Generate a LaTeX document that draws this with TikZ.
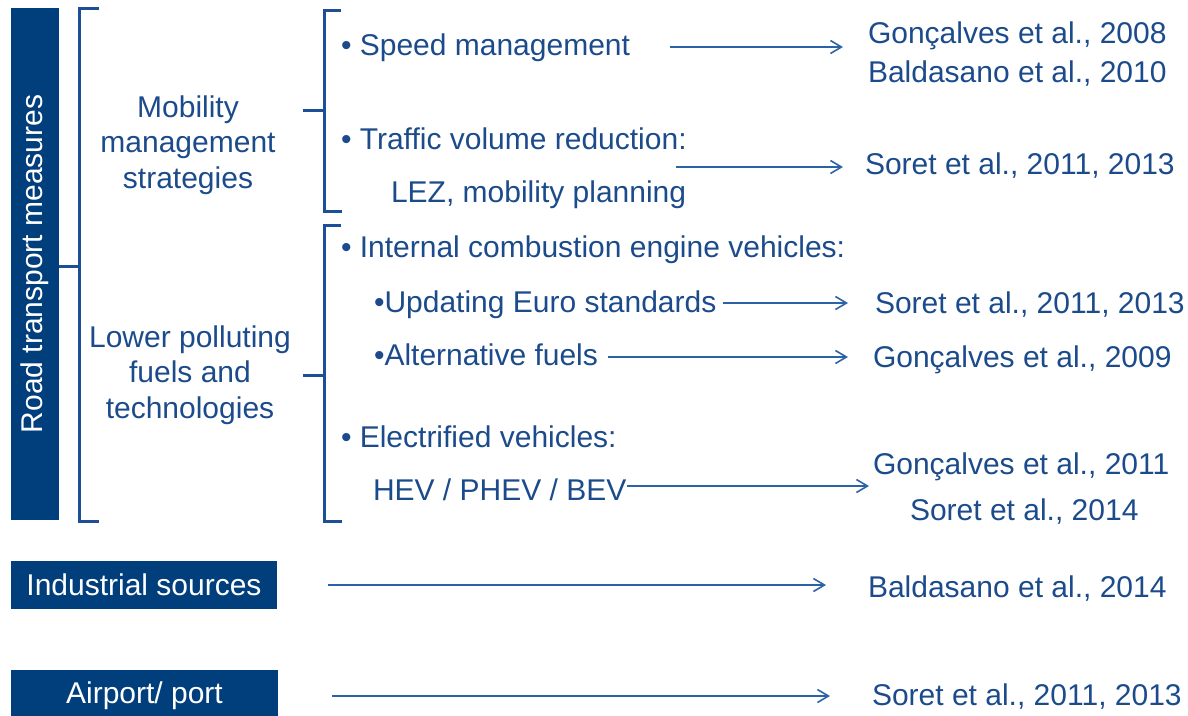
\documentclass[tikz,border=0pt]{standalone}
\usepackage{fontspec}
\setmainfont{Liberation Sans}
\usetikzlibrary{arrows.meta}

\definecolor{boxblue}{HTML}{003E7C}
\definecolor{txtblue}{HTML}{1C4B8B}
\definecolor{brkblue}{HTML}{1D4F96}
\definecolor{arrblue}{HTML}{2C63A6}

\begin{document}
\begin{tikzpicture}[x=1pt,y=-1pt,
  every node/.style={inner sep=0pt, outer sep=0pt,
    font=\fontsize{30}{35.5}\selectfont},
  item/.style={text=txtblue, anchor=base west},
  ref/.style={text=txtblue, anchor=base west},
  group/.style={text=txtblue, align=center, anchor=center},
  catbox/.style={fill=boxblue, text=white, anchor=center},
  bracket/.style={draw=brkblue, line width=3pt, line join=miter},
  link/.style={draw=arrblue, line width=1.6pt,
    -{Straight Barb[length=11pt,width=13pt,line width=1.6pt]}},
]
\useasboundingbox (0,0) rectangle (1188,715);

% --- category boxes ---
\node[catbox, rotate=90, minimum width=512pt, minimum height=48pt]
  (road) at (35,264) {Road transport measures};
\node[catbox, minimum width=266pt, minimum height=48pt]
  (ind) at (144,585) {Industrial sources};
\node[catbox, minimum width=267pt, minimum height=52pt]
  (air) at (144.5,696) {Airport/ port};

% --- sub-categories ---
\node[group] (mob) at (188,145) {Mobility\\management\\strategies};
\node[group] (low) at (190,375) {Lower polluting\\fuels and\\technologies};

% --- brackets ---
\coordinate (br0) at (79,266);
\draw[bracket] (99,8) -- (79,8) -- (79,521) -- (99,521);
\draw[bracket] (road.south |- br0) -- (br0);

\coordinate (br1) at (324,110);
\draw[bracket] (341,10) -- (324,10) -- (324,211) -- (342,211);
\draw[bracket] (303,110) -- (br1);

\coordinate (br2) at (324,375);
\draw[bracket] (341,225) -- (324,225) -- (324,521) -- (342,521);
\draw[bracket] (303,375) -- (br2);

% --- measures ---
\node[item] (sp)   at (341,55)  {• Speed management};
\node[item] (tv)   at (341,149) {• Traffic volume reduction:};
\node[item] (lez)  at (391,202) {LEZ, mobility planning};
\node[item] (ice)  at (341,257) {• Internal combustion engine vehicles:};
\node[item] (euro) at (374,312) {•Updating Euro standards};
\node[item] (alt)  at (374,365) {•Alternative fuels};
\node[item] (ev)   at (341,447) {• Electrified vehicles:};
\node[item] (hev)  at (373,500) {HEV / PHEV / BEV};

% --- references ---
\node[ref] (r1) at (868,43)  {Gonçalves et al., 2008};
\node[ref] (r2) at (868,82)  {Baldasano et al., 2010};
\node[ref] (r3) at (865,174) {Soret et al., 2011, 2013};
\node[ref] (r4) at (875,313) {Soret et al., 2011, 2013};
\node[ref] (r5) at (873,367) {Gonçalves et al., 2009};
\node[ref] (r6) at (873,474) {Gonçalves et al., 2011};
\node[ref] (r7) at (910,520) {Soret et al., 2014};
\node[ref] (r8) at (868,597) {Baldasano et al., 2014};
\node[ref] (r9) at (872,705) {Soret et al., 2011, 2013};

% --- links from measures to references ---
\coordinate (sp-out)   at (670,47);   \coordinate (r1-in) at (843,47);
\coordinate (tv-out)   at (676,167);  \coordinate (r3-in) at (843,167);
\coordinate (euro-out) at (723,303);  \coordinate (r4-in) at (848,303);
\coordinate (alt-out)  at (608,357);  \coordinate (r5-in) at (848,357);
\coordinate (hev-out)  at (627,486);  \coordinate (r6-in) at (869,486);
\coordinate (ind-out)  at (328,585);  \coordinate (r8-in) at (826,585);
\coordinate (air-out)  at (332,696);  \coordinate (r9-in) at (830,696);

\draw[link] (sp-out)   -- (r1-in);
\draw[link] (tv-out)   -- (r3-in);
\draw[link] (euro-out) -- (r4-in);
\draw[link] (alt-out)  -- (r5-in);
\draw[link] (hev-out)  -- (r6-in);
\draw[link] (ind-out)  -- (r8-in);
\draw[link] (air-out)  -- (r9-in);
\end{tikzpicture}
\end{document}
